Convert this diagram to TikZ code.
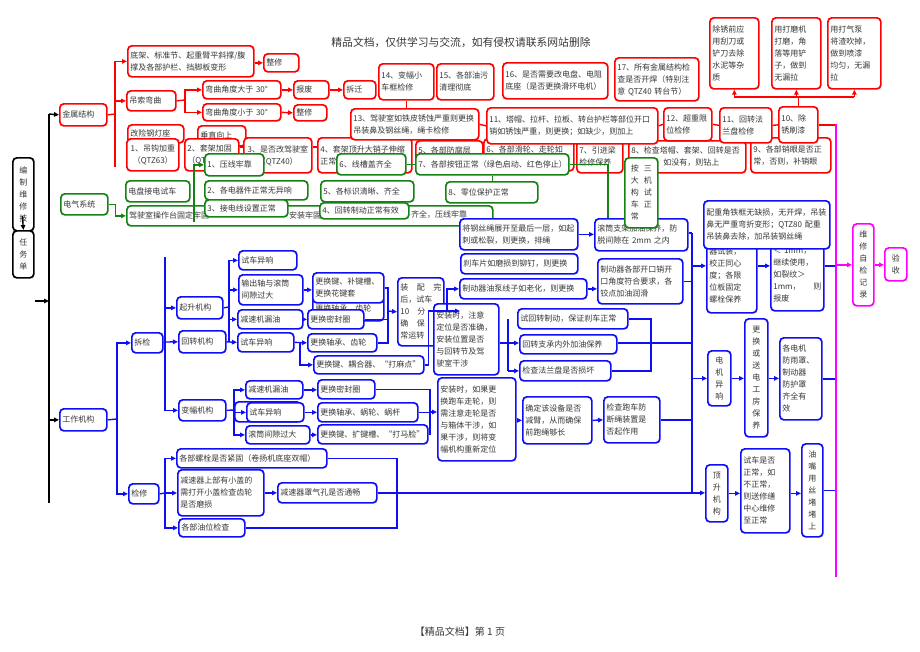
\documentclass[tikz,border=0pt]{standalone}
\usepackage{fontspec}
\newfontfamily\cjk{Noto Sans CJK SC}
\usetikzlibrary{arrows.meta}
\definecolor{redline}{RGB}{255,0,0}
\definecolor{greenline}{RGB}{20,130,20}
\definecolor{blueline}{RGB}{15,15,245}
\definecolor{pinkline}{RGB}{255,0,255}
\definecolor{textgray}{RGB}{55,55,55}

\tikzset{
  every node/.style={font=\cjk\fontsize{8}{12}\selectfont, text=textgray},
  cell/.style={draw, fill=white, rounded corners=4pt, line width=1.7pt, anchor=north west, inner xsep=2.5pt, inner ysep=1pt, align=left},
  rbox/.style={cell, draw=redline},
  gbox/.style={cell, draw=greenline},
  bbox/.style={cell, draw=blueline},
  kbox/.style={cell, draw=black, align=center},
  mbox/.style={cell, draw=pinkline, align=center},
  frag/.style={anchor=west, inner sep=0pt},
  rline/.style={draw=redline, line width=1.4pt},
  gline/.style={draw=greenline, line width=1.4pt},
  bline/.style={draw=blueline, line width=1.4pt},
  kline/.style={draw=black, line width=1.4pt},
  mline/.style={draw=pinkline, line width=1.4pt},
  rarr/.style={rline, -{Triangle[length=5pt,width=4.5pt]}},
  garr/.style={gline, -{Triangle[length=5pt,width=4.5pt]}},
  barr/.style={bline, -{Triangle[length=5pt,width=4.5pt]}},
  karr/.style={kline, -{Triangle[length=5pt,width=4.5pt]}},
  marr/.style={mline, -{Triangle[length=5pt,width=4.5pt]}}
}

\begin{document}
\begin{tikzpicture}[x=1pt,y=-1pt]
    \useasboundingbox (0,0) rectangle (920,651);

    % Header and footer
    \node[font=\cjk\fontsize{10.8}{13}\selectfont] (title) at (461,42) {精品文档，仅供学习与交流，如有侵权请联系网站删除};
    \node[font=\cjk\fontsize{10}{12}\selectfont] (footer) at (460,632) {【精品文档】第 1 页};

    % Task sheet
    \node[kbox, text width=16pt, minimum height=73pt] (bianzhi) at (12,157) {编\\制\\维\\修\\技};
    \node[kbox, text width=16pt, minimum height=47pt] (renwu) at (12,230) {任\\务\\单};

    % Metal structure
    \node[rbox, text width=42pt, minimum height=22pt] (jinshu) at (59,103) {金属结构};
    \node[rbox, text width=121pt, minimum height=31pt] (dijia) at (127,45) {底架、标准节、起重臂平斜撑/腹\\撑及各部护栏、挡脚板变形};
    \node[rbox, text width=30pt, minimum height=18pt] (zhengxiu1) at (263,53) {整修};
    \node[rbox, text width=44pt, minimum height=20pt] (diaosuo) at (126,90) {吊索弯曲};
    \node[rbox, text width=73pt, minimum height=18pt] (dayu) at (202,80) {弯曲角度大于 30°};
    \node[rbox, text width=73pt, minimum height=17pt] (xiaoyu) at (202,103) {弯曲角度小于 30°};
    \node[rbox, text width=30pt, minimum height=18pt] (baofei) at (293,80) {报废};
    \node[rbox, text width=27pt, minimum height=18pt] (chaiqian) at (343,80) {拆迁};
    \node[rbox, text width=28pt, minimum height=16pt] (zhengxiu2) at (293,104) {整修};
    \node[rbox, text width=51pt, minimum height=18pt] (dengzuo) at (127,124) {改险钢灯座};
    \node[rbox, text width=43pt, minimum height=20pt] (chuizhi) at (197,125) {垂直向上};
    \node[rbox, text width=47pt, minimum height=32pt, align=center] (r1) at (126,138) {1、吊钩加重\\（QTZ63）};
    \node[rbox, text width=49pt, minimum height=32pt] (r2) at (184,138) {2、套架加固\\（QTZ40）};
    \node[rbox, text width=63pt, minimum height=35pt, align=center] (r3) at (243,137) {3、是否改驾驶室\\（QTZ40）};
    \node[rbox, text width=89pt, minimum height=35pt] (r4) at (317,137) {4、套架顶升大销子伸缩\\正常};
    \node[rbox, text width=62pt, minimum height=30pt] (r5) at (415,140) {5、各部防腐层\\~};
    \node[rbox, text width=85pt, minimum height=32pt] (r6) at (483,138) {6、各部滑轮、走轮如\\~};
    \node[rbox, text width=41pt, minimum height=32pt] (r7) at (576,140) {7、引进梁\\检修保养};
    \node[rbox, text width=112pt, minimum height=32pt] (r8) at (628,140) {8、检查塔帽、套架、回转是否\\有销孔，如没有，则钻上};
    \node[rbox, text width=75pt, minimum height=35pt] (r9) at (750,137) {9、各部销眼是否正\\常，否则，补销眼};
    \node[rbox, text width=123pt, minimum height=31pt] (r13) at (350,108) {13、驾驶室如铁皮锈蚀严重则更换\\吊装鼻及钢丝绳，绳卡检修};
    \node[rbox, text width=50pt, minimum height=36pt] (r14) at (378,63) {14、变幅小\\车框检修};
    \node[rbox, text width=52pt, minimum height=36pt] (r15) at (436,63) {15、各部油污\\清理彻底};
    \node[rbox, text width=100pt, minimum height=36pt] (r16) at (502,62) {16、是否需要改电盘、电阻\\底座（是否更换滑环电机）};
    \node[rbox, text width=79pt, minimum height=43pt] (r17) at (614,57) {17、所有金属结构检\\查是否开焊（特别注\\意 QTZ40 转台节）};
    \node[rbox, text width=166pt, minimum height=36pt] (r11) at (486,107) {11、塔帽、拉杆、拉板、转台护栏等部位开口\\销如锈蚀严重，则更换；如缺少，则加上};
    \node[rbox, text width=43pt, minimum height=33pt] (r12) at (663,107) {12、超重限\\位检修};
    \node[rbox, text width=47pt, minimum height=35pt] (r11b) at (719,107) {11、回转法\\兰盘检修};
    \node[rbox, text width=34pt, minimum height=36pt] (r10) at (778,106) {10、除\\锈刷漆};
    \node[rbox, text width=44pt, minimum height=71pt] (rs1) at (709,17) {除锈前应\\用刮刀或\\铲刀去除\\水泥等杂\\质};
    \node[rbox, text width=44pt, minimum height=71pt] (rs2) at (771,17) {用打磨机\\打磨，角\\落等用铲\\子，做到\\无漏拉};
    \node[rbox, text width=48pt, minimum height=71pt] (rs3) at (827,17) {用打气泵\\将渣吹掉，\\做到喷漆\\均匀，无漏\\拉};

    % Electrical system
    \node[gbox, text width=42pt, minimum height=21pt] (dianqi) at (60,193) {电气系统};
    \node[gbox, text width=59pt, minimum height=21pt] (dianpan) at (125,180) {电盘接电试车};
    \node[gbox, minimum width=366pt, minimum height=20pt] (jiashi) at (126,205) {};
    \node[frag] (jiashi1) at (129,215) {驾驶室操作台固定牢固};
    \node[frag] (jiashi2) at (289,215) {安装牢固};
    \node[frag] (jiashi3) at (411,215) {齐全，压线牢靠};
    \node[gbox, text width=54pt, minimum height=22pt] (g1) at (204,153) {1、压线牢靠};
    \node[gbox, text width=98pt, minimum height=19pt] (g2) at (204,180) {2、各电器件正常无异响};
    \node[gbox, text width=78pt, minimum height=17pt] (g3) at (204,199) {3、接电线设置正常};
    \node[gbox, text width=88pt, minimum height=21pt] (g5) at (320,180) {5、各标识清晰、齐全};
    \node[gbox, text width=84pt, minimum height=16pt] (g4) at (319,202) {4、回转制动正常有效};
    \node[gbox, text width=64pt, minimum height=21pt] (g6) at (336,153) {6、线槽盖齐全};
    \node[gbox, text width=148pt, minimum height=21pt] (g7) at (415,153) {7、各部按钮正常（绿色启动、红色停止）};
    \node[gbox, text width=87pt, minimum height=21pt] (g8) at (445,181) {8、零位保护正常};

    % Working mechanisms
    \node[bbox, text width=42pt, minimum height=22pt] (gongzuo) at (59,408) {工作机构};
    \node[bbox, text width=26pt, minimum height=20pt] (chaijian) at (131,332) {拆检};
    \node[bbox, text width=25pt, minimum height=20pt] (jianxiu) at (128,483) {检修};
    \node[bbox, text width=41pt, minimum height=22pt] (qisheng) at (176,296) {起升机构};
    \node[bbox, text width=42pt, minimum height=22pt] (huizhuan) at (178,330) {回转机构};
    \node[bbox, text width=42pt, minimum height=21pt] (bianfu) at (178,399) {变幅机构};
    \node[bbox, text width=53pt, minimum height=19pt] (qs1) at (238,250) {试车异响};
    \node[bbox, text width=59pt, minimum height=30pt] (qs2) at (238,274) {输出轴与滚筒\\间隙过大};
    \node[bbox, text width=60pt, minimum height=19pt] (qs3) at (237,309) {减速机漏油};
    \node[bbox, text width=51pt, minimum height=19pt] (hz1) at (237,332) {试车异响};
    \node[bbox, text width=66pt, minimum height=24pt] (qsh) at (312,296) {更换轴承、齿轮};
    \node[bbox, text width=66pt, minimum height=30pt] (qs2a) at (312,272) {更换键、补键槽、\\更换花键套};
    \node[bbox, text width=51pt, minimum height=19pt] (qs3a) at (307,309) {更换密封圈};
    \node[bbox, text width=64pt, minimum height=18pt] (hz1a) at (307,333) {更换轴承、齿轮};
    \node[bbox, text width=105pt, minimum height=18pt] (hz2a) at (313,355) {更换键、耦合器、“打麻点”};
    \node[bbox, text width=41pt, minimum height=68pt] (zhuangpei) at (397,277) {装\hfill 配\hfill 完\\后，试车\\10\hfill 分\hfill 钟\\确\hfill 保\hfill 正\\常运转};
    \node[bbox, text width=60pt, minimum height=71pt] (anzhuang1) at (433,303) {安装时，注意\\定位是否准确，\\安装位置是否\\与回转节及驾\\驶室干涉};
    \node[bbox, text width=73pt, minimum height=83pt] (anzhuang2) at (437,377) {安装时，如果更\\换跑车走轮，则\\需注意走轮是否\\与箱体干涉，如\\果干涉，则将变\\幅机构重新定位};
    \node[bbox, text width=52pt, minimum height=18pt] (bf1) at (245,380) {减速机漏油};
    \node[bbox, minimum width=66pt, minimum height=20pt] (bf2back) at (234,401) {};
    \node[bbox, text width=52pt, minimum height=19pt] (bf2) at (246,402) {试车异响};
    \node[bbox, text width=59pt, minimum height=18pt] (bf3) at (245,425) {滚筒间隙过大};
    \node[bbox, text width=52pt, minimum height=19pt] (bf1a) at (317,379) {更换密封圈};
    \node[bbox, text width=95pt, minimum height=19pt] (bf2a) at (317,402) {更换轴承、蜗轮、蜗杆};
    \node[bbox, text width=105pt, minimum height=19pt] (bf3a) at (317,424) {更换键、扩键槽、“打马脸”};
    \node[bbox, text width=145pt, minimum height=19pt] (jx1) at (176,448) {各部螺栓是否紧固（卷扬机底座双帽）};
    \node[bbox, text width=81pt, minimum height=46pt] (jx2) at (177,469) {减速器上部有小盖的\\需打开小盖检查齿轮\\是否磨损};
    \node[bbox, text width=61pt, minimum height=18pt] (jx3) at (178,518) {各部油位检查};
    \node[bbox, text width=94pt, minimum height=20pt] (jx2a) at (277,482) {减速器罩气孔是否通畅};
    \node[bbox, text width=113pt, minimum height=31pt] (gangsi) at (459,218) {将钢丝绳展开至最后一层，如起\\刺或松裂，则更换，排绳};
    \node[bbox, text width=88pt, minimum height=32pt] (guntong) at (594,218) {滚筒支架加油保养，防\\脱间隙在 2mm 之内};
    \node[bbox, text width=112pt, minimum height=20pt] (shache) at (460,253) {刹车片如磨损到铆钉，则更换};
    \node[bbox, text width=122pt, minimum height=20pt] (youbeng) at (459,278) {制动器油泵线子如老化，则更换};
    \node[bbox, text width=80pt, minimum height=45pt] (zhidong) at (597,258) {制动器各部开口销开\\口角度符合要求，各\\铰点加油润滑};
    \node[bbox, text width=105pt, minimum height=20pt] (shihz) at (517,308) {试回转制动，保证刹车正常};
    \node[bbox, text width=92pt, minimum height=19pt] (zhicheng) at (519,334) {回转支承内外加油保养};
    \node[bbox, text width=86pt, minimum height=20pt] (falan) at (519,360) {检查法兰盘是否损坏};
    \node[bbox, text width=64pt, minimum height=47pt] (queding) at (522,396) {确定该设备是否\\减臂，从而确保\\前跑绳够长};
    \node[bbox, text width=51pt, minimum height=46pt] (paoche) at (603,396) {检查跑车防\\断绳装置是\\否起作用};
    \node[bbox, text width=45pt, minimum height=74pt] (shizhuang) at (706,238) {器试装，\\校正同心\\度；各限\\位板固定\\螺栓保养};
    \node[bbox, text width=48pt, minimum height=72pt] (liewen) at (770,238) {＜ 1mm，\\继续使用，\\如裂纹＞\\1mm，\hfill 则\\报废};
    \node[bbox, text width=121pt, minimum height=48pt] (peizhong) at (703,200) {配重角铁框无缺损，无开焊，吊装\\鼻无严重弯折变形；QTZ80 配重\\吊装鼻去除，加吊装钢丝绳};
    \node[bbox, text width=18pt, minimum height=55pt, align=center] (dianji) at (707,350) {电\\机\\异\\响};
    \node[bbox, text width=18pt, minimum height=118pt, align=center] (songxiu) at (744,318) {更\\换\\或\\送\\电\\工\\房\\保\\养};
    \node[bbox, text width=37pt, minimum height=82pt] (fangyu) at (779,337) {各电机\\防雨罩、\\制动器\\防护罩\\齐全有\\效};
    \node[bbox, text width=17pt, minimum height=57pt, align=center] (dingsheng) at (705,464) {顶\\升\\机\\构};
    \node[bbox, text width=44pt, minimum height=84pt] (shiche) at (740,448) {试车是否\\正常，如\\不正常，\\则送修缮\\中心维修\\至正常};
    \node[bbox, text width=16pt, minimum height=93pt, align=center] (youzui) at (801,443) {油\\嘴\\用\\丝\\堵\\堵\\上};
    \node[gbox, inner xsep=6pt, text width=21pt, minimum height=70pt] (sanda) at (624,157) {按\hspace{5pt}三\\大\hspace{5pt}机\\构\hspace{5pt}试\\车\hspace{5pt}正\\常};

    % Self check and acceptance
    \node[mbox, text width=16pt, minimum height=82pt] (jilu) at (852,223) {维\\修\\自\\检\\记\\录};
    \node[mbox, text width=17pt, minimum height=33pt] (yanshou) at (884,247) {验\\收};

    % Black trunk
    \coordinate (ktop) at (49,114);
    \coordinate (kbot) at (49,503);
    \coordinate (kin) at (35,301);
    \coordinate (bzin) at (22.5,216);
    \draw[kline] (ktop) -- (kbot);
    \draw[karr] (ktop) -- (jinshu.west);
    \draw[karr] (ktop |- gongzuo.west) -- (gongzuo.west);
    \draw[karr] (kin) -- (kin -| ktop);
    \draw[karr] (bzin) -- (renwu.north);

    % Red connectors
    \coordinate (rt) at (115,114);
    \coordinate (rbot) at (115,167);
    \draw[rline] (jinshu.east) -- (rt);
    \draw[rline] (rt |- dijia.west) -- (rbot);
    \draw[rarr] (rt |- dijia.west) -- (dijia.west);
    \draw[rarr] (rt |- diaosuo.west) -- (diaosuo.west);
    \coordinate (rq) at (185,100);
    \draw[rline] (diaosuo.east) -- (rq);
    \draw[rarr] (rq) |- (dayu.west);
    \draw[rarr] (rq) |- (xiaoyu.west);
    \draw[rarr] (dijia.east |- zhengxiu1.west) -- (zhengxiu1.west);
    \draw[rarr] (dayu.east) -- (baofei.west);
    \draw[rarr] (baofei.east) -- (chaiqian.west);
    \draw[rarr] (xiaoyu.east) -- (zhengxiu2.west);
    \coordinate (rr) at (240,147);
    \draw[rline] (rr -| r2.east) -- (rr -| r3.west);
    \draw[rline] (rr -| r3.east) -- (rr -| r4.west);
    \draw[rline] (r14.south) -- (r14.south |- r13.north);
    \draw[rline] (r13.east) -- (r11.west);
    \draw[rline] (r11.east) -- (r12.west);
    \draw[rline] (r12.east) -- (r11b.west);
    \draw[rline] (r11b.east) -- (r10.west);
    \coordinate (rh) at (797,97);
    \draw[rline] (r10.north) -- (r10.north |- rh);
    \draw[rline] (rs1.south |- rh) -- (rs3.south |- rh);
    \draw[rarr] (rs1.south |- rh) -- (rs1.south);
    \draw[rarr] (rs2.south |- rh) -- (rs2.south);
    \draw[rarr] (rs3.south |- rh) -- (rs3.south);
    \coordinate (mtop) at (836,124);
    \coordinate (mbot) at (836,577);
    \draw[rline] (r10.east) -- (r10.east -| mtop);

    % Green connectors
    \draw[garr] (dianqi.east) -- ++(7,0) |- (jiashi.west);
    \coordinate (gv) at (194,222);
    \draw[garr] (gv) |- (g1.west);
    \draw[gline] (g6.east) -- (g7.west);
    \draw[gline] (g7.south) -- (g7.south |- g8.north);
    \draw[gline] (g7.east) -| ([xshift=14pt]guntong.north west);

    % Blue connectors
    \coordinate (bt) at (117,419);
    \draw[bline] (gongzuo.east) -- (bt);
    \draw[barr] (bt) |- (chaijian.west);
    \draw[barr] (bt) |- (jianxiu.west);
    \coordinate (ct) at (165,342);
    \coordinate (ctop) at (165,257);
    \draw[bline] (chaijian.east) -- (ct);
    \draw[bline] (ctop) -- (ct);
    \draw[barr] (ct) |- (qisheng.west);
    \draw[barr] (ct) -- (huizhuan.west);
    \draw[barr] (ct) |- (bianfu.west);
    \coordinate (qv) at (229,307);
    \draw[bline] (qisheng.east) -- (qv);
    \draw[bline] (qv |- qs1.west) -- (qv |- hz1.west);
    \draw[barr] (qv |- qs1.west) -- (qs1.west);
    \draw[barr] (qv |- qs2.west) -- (qs2.west);
    \draw[barr] (qv |- qs3.west) -- (qs3.west);
    \draw[barr] (huizhuan.east) -- (hz1.west);
    \draw[barr] (qs2.east) -- (qs2.east -| qs2a.west);
    \draw[barr] (qs3.east) -- (qs3a.west);
    \draw[barr] (hz1.east) -- (hz1a.west);
    \coordinate (hv) at (300,342);
    \draw[barr] (hv) |- (hz2a.west);
    \coordinate (zv) at (388,311);
    \draw[bline] (qs2a.east) -| (zv);
    \draw[bline] (qs3a.east) -| (zv);
    \draw[bline] (hz1a.east) -| (zv);
    \draw[barr] (zv) -- (zhuangpei.west);
    \coordinate (ov) at (447,311);
    \draw[bline] (hz2a.east) -- ++(4,0) |- (ov);
    \draw[barr] (ov) |- (youbeng.west);
    \draw[barr] (ov) -- ++(13,0);
    \draw[barr] (gangsi.east) -- (gangsi.east -| guntong.west);
    \draw[barr] (youbeng.east) -- (youbeng.east -| zhidong.west);
    \coordinate (av1) at (508,343);
    \draw[bline] (anzhuang1.east |- av1) -- (av1);
    \draw[bline] (av1 |- shihz.west) -- (av1 |- falan.west);
    \draw[barr] (av1) -- (av1 -| zhicheng.west);
    \draw[barr] (av1 |- falan.west) -- (falan.west);
    \coordinate (sv) at (651,343);
    \draw[bline] (shihz.east) -| (sv);
    \draw[bline] (falan.east) -| (sv);
    \coordinate (fv) at (234,410);
    \draw[bline] (bianfu.east) -- (fv);
    \draw[barr] (fv) |- (bf1.west);
    \draw[barr] (fv |- bf2.west) -- (bf2.west);
    \draw[barr] (fv) |- (bf3.west);
    \draw[barr] (bf1.east) -- (bf1.east -| bf1a.west);
    \draw[barr] (bf2.east) -- (bf2a.west);
    \draw[barr] (bf3.east) -- (bf3.east -| bf3a.west);
    \coordinate (av) at (430,412);
    \draw[bline] (bf1a.east) -| (av);
    \draw[bline] (bf3a.east) -| (av);
    \draw[bline] (bf2a.east) -- (bf2a.east -| av);
    \draw[barr] (av) -- (av -| anzhuang2.west);
    \draw[barr] (anzhuang2.east |- queding.west) -- (queding.west);
    \draw[barr] (queding.east) -- (paoche.west);
    \coordinate (jv) at (165,493);
    \draw[bline] (jianxiu.east) -- (jv);
    \draw[barr] (jv) |- (jx1.west);
    \draw[barr] (jv) -- (jv -| jx2.west);
    \draw[barr] (jv) |- (jx3.west);
    \draw[barr] (jx2.east) -- (jx2.east -| jx2a.west);
    \coordinate (lv) at (397,492);
    \draw[bline] (jx1.east) -| (lv);
    \draw[bline] (jx3.east) -| (lv);
    \draw[barr] (jx2a.east) -- (jx2a.east -| dingsheng.west);

    % Right blue trunk
    \coordinate (rv) at (692,233);
    \coordinate (rvb) at (692,492);
    \draw[bline] (rv) -- (rvb);
    \draw[bline] (guntong.east |- rv) -- (rv);
    \draw[bline] (zhidong.east) -- (zhidong.east -| rv);
    \draw[bline] (zhicheng.east |- sv) -- (sv -| rv);
    \draw[bline] (paoche.east) -- (paoche.east -| rv);
    \coordinate (szin) at ([yshift=10pt]shizhuang.west);
    \draw[barr] (szin -| rv) -- (szin);
    \draw[barr] (szin -| shizhuang.east) -- (szin -| liewen.west);
    \draw[bline] (szin -| liewen.east) -- (szin -| mtop);
    \draw[barr] (dianji.west -| rv) -- (dianji.west);
    \draw[barr] (dianji.east) -- (dianji.east -| songxiu.west);
    \draw[barr] (dianji.east -| songxiu.east) -- (dianji.east -| fangyu.west);
    \draw[bline] (fangyu.east) -- (fangyu.east -| mtop);
    \draw[barr] (dingsheng.east) -- (dingsheng.east -| shiche.west);
    \draw[barr] (dingsheng.east -| shiche.east) -- (dingsheng.east -| youzui.west);
    \draw[bline] (youzui.east) -- (youzui.east -| mtop);

    % Magenta record line
    \draw[mline] (mtop) -- (mbot);
    \draw[marr] (mtop |- jilu.west) -- (jilu.west);
    \draw[marr] (jilu.east) -- (jilu.east -| yanshou.west);
\end{tikzpicture}
\end{document}
